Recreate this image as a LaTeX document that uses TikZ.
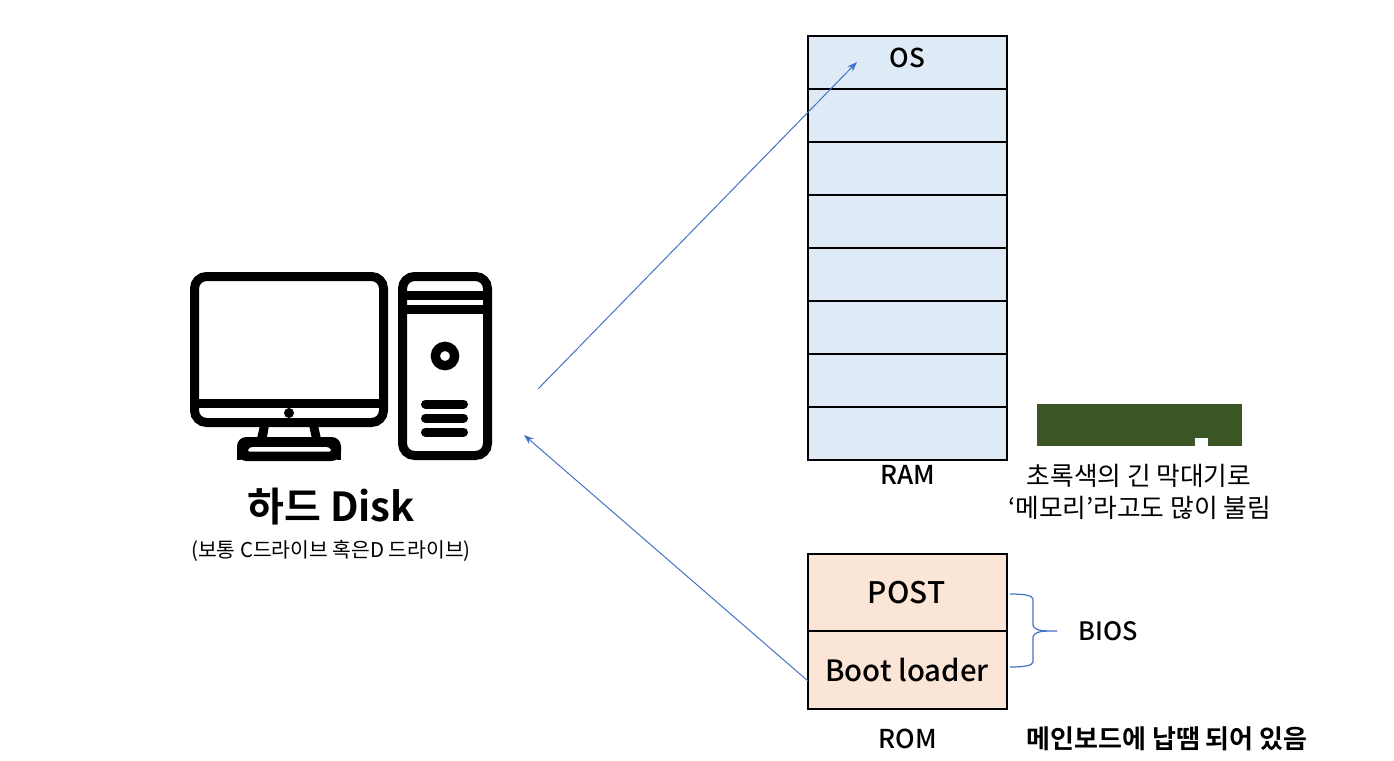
\documentclass[tikz,border=0pt]{standalone}
\usepackage{fontspec}
\setmainfont{Noto Sans CJK KR}
\newfontfamily\krb{Noto Sans CJK KR Medium}
\newfontfamily\krh{Noto Sans CJK KR Bold}
\usetikzlibrary{arrows.meta}
\definecolor{ramfill}{HTML}{DEEBF7}
\definecolor{romfill}{HTML}{FBE5D6}
\definecolor{sticks}{HTML}{3B5525}
\definecolor{link}{HTML}{4472C4}
\tikzset{
  x=0.75pt,y=-0.75pt,
  cell/.style={draw=black,line width=1pt,minimum width=149.25pt,inner sep=0pt,outer sep=0pt,anchor=north west},
  ramcell/.style={cell,fill=ramfill,minimum height=39.75pt},
  romcell/.style={cell,fill=romfill,minimum height=58pt},
  icon/.style={line width=6.75pt,draw=black},
  iconbar/.style={line width=6.75pt,draw=black,line cap=round},
  label/.style={inner sep=0pt,font=\krb\fontsize{19.5pt}{22pt}\selectfont},
  note/.style={inner sep=0pt,font=\fontsize{19.3pt}{22pt}\selectfont},
  linkline/.style={draw=link,line width=0.75pt},
  linkarrow/.style={linkline,-{Stealth[length=7.5pt,width=5.5pt]}}
}
\begin{document}
\begin{tikzpicture}
\useasboundingbox (0,0) rectangle (1394,760);
% RAM
\foreach \i [evaluate=\i as \yy using {36+53*\i}] in {0,...,7}{
  \node[ramcell] (ram\i) at (808,\yy) {};
}
% ROM
\node[romcell,minimum height=57.75pt] (post) at (808,554) {};
\node[romcell,minimum height=58pt] (boot) at (808,631.5) {};
% module
\fill[sticks] (1037,404) rectangle (1242,446);
\fill[white] (1195,438) rectangle (1208,446);
% monitor
\draw[icon,rounded corners=9pt] (194.5,276.5) rectangle (383.5,422.5);
\draw[icon] (194.5,403.5) -- (383.5,403.5);
\fill (289,413) circle[radius=5];
\fill (260,425) -- (269,425) -- (266.7,439) -- (257,439) -- cycle;
\fill (309,425) -- (318,425) -- (321,439) -- (312,439) -- cycle;
\fill[rounded corners=7pt] (237,461) -- (237,437) -- (341,437) -- (341,461) -- cycle;
\fill[black] (237,450) rectangle (241,460);
\fill[black] (337,450) rectangle (341,460);
\fill[white,rounded corners=2pt] (247,451.5) -- (250,447) -- (329,447) -- (332,451.5) -- cycle;
% tower
\draw[icon,rounded corners=9pt] (402.5,276.5) rectangle (487.5,455.5);
\draw[icon] (402.5,295.5) -- (487.5,295.5);
\draw[icon] (402.5,309.5) -- (487.5,309.5);
\draw[line width=7pt] (445,356) circle[radius=9.6];
\draw[iconbar] (425.5,404) -- (463.5,404);
\draw[iconbar] (425.5,418) -- (463.5,418);
\draw[iconbar] (425.5,432) -- (463.5,432);
% anchors for connectors
\coordinate (fromdisk) at (538,389);
\coordinate (osin) at (857,62);
\coordinate (diskin) at (524,435);
\coordinate (bootout) at (808,681);
\draw[linkarrow] (fromdisk) -- (osin);
\draw[linkarrow] (bootout) -- (diskin);
% brace
\draw[linkline,line width=0.9pt] (1010,594) .. controls (1022,594) and (1033,595) .. (1033,599)
  -- (1033,625) .. controls (1033,629) and (1040,631) .. (1047,631) -- (1057,631);
\draw[linkline,line width=0.9pt] (1010,667) .. controls (1022,667) and (1033,666) .. (1033,662)
  -- (1033,637) .. controls (1033,633) and (1040,631) .. (1047,631);
% text
\node[label] (os) at (907.5,58) {OS};
\node[label] (ram) at (907.5,475) {RAM};
\node[label] (rom) at (907.5,739) {ROM};
\node[label,font=\krb\fontsize{22.3pt}{28pt}\selectfont] (postt) at (906.5,592.5) {POST};
\node[label,font=\krb\fontsize{22pt}{26pt}\selectfont] (boott) at (907,670) {Boot loader};
\node[label,font=\krb\fontsize{19pt}{22pt}\selectfont] (bios) at (1108.5,631.5) {BIOS};
\node[label,font=\krh\fontsize{19.5pt}{22pt}\selectfont] (solder) at (1167,739) {메인보드에 납땜 되어 있음};
\node[note] (n1) at (1139,476) {초록색의 긴 막대기로};
\node[note] (n2) at (1139.5,508) {‘메모리’라고도 많이 불림};
\node[label,font=\krh\fontsize{30pt}{34pt}\selectfont] (disk) at (331,507) {하드 Disk};
\node[note,font=\fontsize{15.3pt}{18pt}\selectfont] (disk2) at (331,551) {(보통 C드라이브 혹은D 드라이브)};
\end{tikzpicture}
\end{document}
